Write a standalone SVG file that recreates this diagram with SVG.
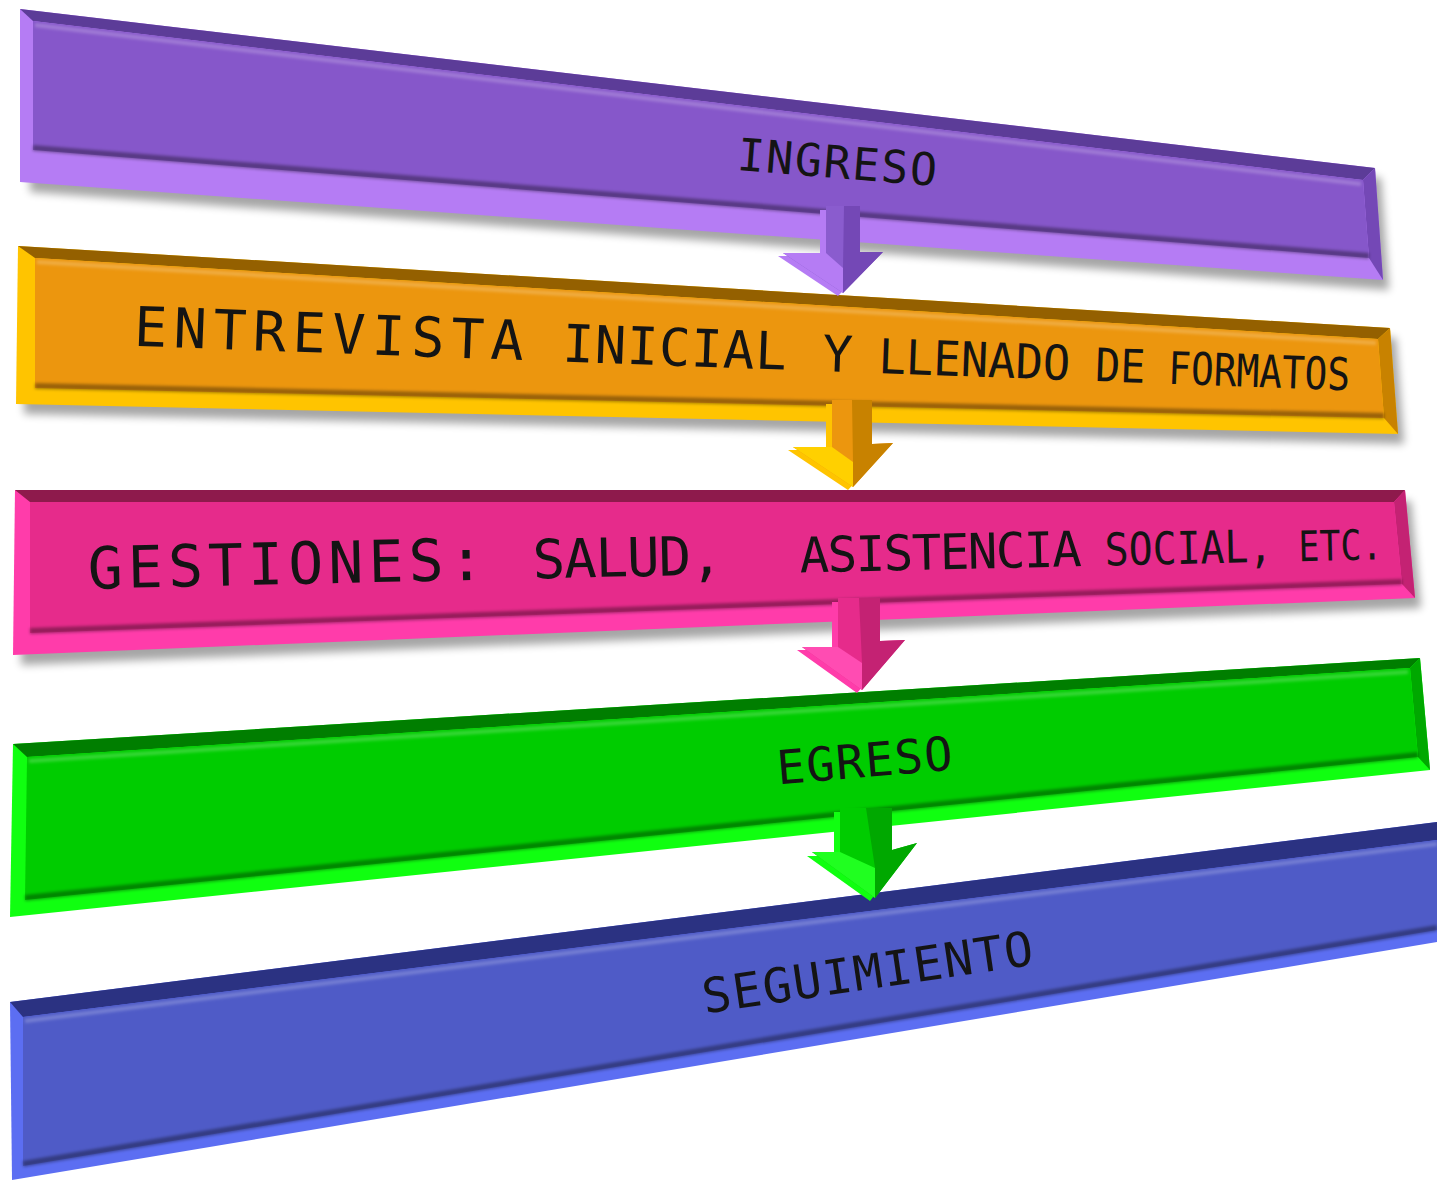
<svg xmlns="http://www.w3.org/2000/svg" width="1437" height="1180" viewBox="0 0 1437 1180">
<defs>
<filter id="sh" x="-5%" y="-30%" width="110%" height="160%"><feGaussianBlur stdDeviation="4"/></filter>
<filter id="soft" x="-5%" y="-50%" width="110%" height="200%"><feGaussianBlur stdDeviation="1.8"/></filter>
</defs>
<style>
.shadow{fill:#000;opacity:.35;filter:url(#sh)}
.lbl{font-family:"DejaVu Sans Mono","Liberation Mono",monospace;fill:#141414;text-anchor:middle}
.ws{text-anchor:start}
.hl{fill:none;stroke:#fff;stroke-opacity:.22;stroke-width:4;filter:url(#soft)}
.dk{fill:none;stroke:#000;stroke-opacity:.35;stroke-width:6;filter:url(#soft)}
</style>
<rect width="1437" height="1180" fill="#fff"/>

<g id="ingreso">
<polygon class="shadow" points="30,20 1381,178 1389,290 30,192"/>
<polygon points="20,9 1375,168 1383,280 20,182" fill="#B57CF4"/>
<polygon points="20,9 1375,168 1363,180 33,21" fill="#5C3C98"/>
<polygon points="1375,168 1383,280 1369,258 1363,180" fill="#7448B6"/>
<polygon points="33,21 1363,180 1369,258 33,150" fill="#8657CA"/>
<polyline class="hl" points="35,25 1361,184"/>
<polyline class="dk" points="33,148 1369,256"/>
<text class="lbl" font-size="45" textLength="200" lengthAdjust="spacing" transform="translate(836,178) rotate(4.6)">INGRESO</text>
</g>

<g id="entrevista">
<polygon class="shadow" points="26,258 1396,338 1404,444 24,414"/>
<polygon points="18,246 1390,328 1398,434 16,404" fill="#FFC400"/>
<polygon points="18,246 1390,328 1378,339 35,258" fill="#946000"/>
<polygon points="1390,328 1398,434 1384,418 1378,339" fill="#C88200"/>
<polygon points="35,258 1378,339 1384,418 35,388" fill="#EC960E"/>
<polyline class="hl" points="37,262 1376,343"/>
<polyline class="dk" points="35,386 1384,416"/>
<text class="lbl ws" transform="translate(739,368) rotate(2.1)"><tspan x="-606" font-size="55" textLength="390" lengthAdjust="spacing">ENTREVISTA</tspan> <tspan x="-177" font-size="52" textLength="224" lengthAdjust="spacing">INICIAL</tspan> <tspan x="83" font-size="50">Y</tspan> <tspan x="139" font-size="48" textLength="192" lengthAdjust="spacingAndGlyphs">LLENADO</tspan> <tspan x="356" font-size="46" textLength="50" lengthAdjust="spacingAndGlyphs">DE</tspan> <tspan x="429" font-size="45" textLength="182" lengthAdjust="spacingAndGlyphs">FORMATOS</tspan></text>
</g>

<g id="gestiones">
<polygon class="shadow" points="23,502 1411,501 1421,608 21,665"/>
<polygon points="15,490 1405,490 1415,598 13,655" fill="#FF3CAA"/>
<polygon points="15,490 1405,490 1394,502 30,502" fill="#8E1A4C"/>
<polygon points="1405,490 1415,598 1402,584 1394,502" fill="#C42273"/>
<polygon points="30,502 1394,502 1402,584 30,633" fill="#E62B8B"/>
<polyline class="hl" points="32,506 1392,506"/>
<polyline class="dk" points="30,631 1402,582"/>
<text class="lbl ws" transform="translate(733,574) rotate(-1.3)"><tspan x="-645" font-size="58" textLength="396" lengthAdjust="spacing">GESTIONES:</tspan> <tspan x="-200" font-size="54" textLength="190" lengthAdjust="spacing">SALUD,</tspan> <tspan x="67" font-size="49" textLength="282" lengthAdjust="spacing">ASISTENCIA</tspan> <tspan x="372" font-size="45" textLength="168" lengthAdjust="spacingAndGlyphs">SOCIAL,</tspan> <tspan x="566" font-size="42" textLength="84" lengthAdjust="spacingAndGlyphs">ETC.</tspan></text>
</g>

<g id="egreso">
<polygon points="13,744 1420,658 1430,770 10,917" fill="#10FF10"/>
<polygon points="13,744 1420,658 1410,668 27,757" fill="#007E00"/>
<polygon points="1420,658 1430,770 1418,757 1410,668" fill="#00A800"/>
<polygon points="27,757 1410,668 1418,757 25,900" fill="#00CC00"/>
<polyline class="hl" points="29,761 1408,672"/>
<polyline class="dk" points="25,898 1418,755"/>
<text class="lbl" font-size="47" textLength="176" lengthAdjust="spacing" transform="translate(866,777) rotate(-4.9)">EGRESO</text>
</g>

<g id="seguimiento">
<polygon points="10,1002 1437,822 1437,942 12,1180" fill="#5C6EF2"/>
<polygon points="10,1002 1437,822 1437,840 23,1017" fill="#2B3282"/>
<polygon points="23,1017 1437,840 1437,930 23,1166" fill="#4F5BC7"/>
<polyline class="hl" points="25,1021 1437,844"/>
<polyline class="dk" points="23,1164 1437,928"/>
<text class="lbl" font-size="48" textLength="334" lengthAdjust="spacing" transform="translate(870,989) rotate(-8.4)">SEGUIMIENTO</text>
</g>

<g id="connectors">
<g id="a1">
<polygon points="820,210 855,210 855,255 878,255 838,296 778,256 820,256" fill="#B57CF4"/>
<polygon points="826,206 860,206 860,252 883,252 843,293 783,253 826,253" fill="#8A5CCE"/>
<polygon points="844,206 860,206 860,252 883,252 843,293 843,268" fill="#7448B6"/>
<polygon points="783,253 826,253 843,268 843,293" fill="#B57CF4"/>
</g>
<g id="a2">
<polygon points="826,404 866,404 866,448 888,446 848,490 788,450 826,450" fill="#FFC400"/>
<polygon points="832,400 872,400 872,444 893,443 853,487 793,447 832,447" fill="#EC960E"/>
<polygon points="852,400 872,400 872,444 893,443 853,487 853,462" fill="#C88200"/>
<polygon points="793,447 832,447 853,462 853,487" fill="#FFD000"/>
</g>
<g id="a3">
<polygon points="832,602 874,602 874,646 900,644 857,693 797,650 832,650" fill="#FF3CAA"/>
<polygon points="838,598 880,598 880,641 905,640 862,690 802,647 838,647" fill="#E62B8B"/>
<polygon points="859,598 880,598 880,641 905,640 862,690 862,663" fill="#C42273"/>
<polygon points="802,647 838,647 862,663 862,690" fill="#FF4CB2"/>
</g>
<g id="a4">
<polygon points="834,812 886,812 886,854 912,847 870,901 807,856 834,856" fill="#10FF10"/>
<polygon points="840,808 892,808 892,850 917,843 875,898 812,852 840,852" fill="#00CC00"/>
<polygon points="866,808 892,808 892,850 917,843 875,898 875,868" fill="#00A800"/>
<polygon points="812,852 840,852 875,868 875,898" fill="#20FF20"/>
</g>
</g>
</svg>
